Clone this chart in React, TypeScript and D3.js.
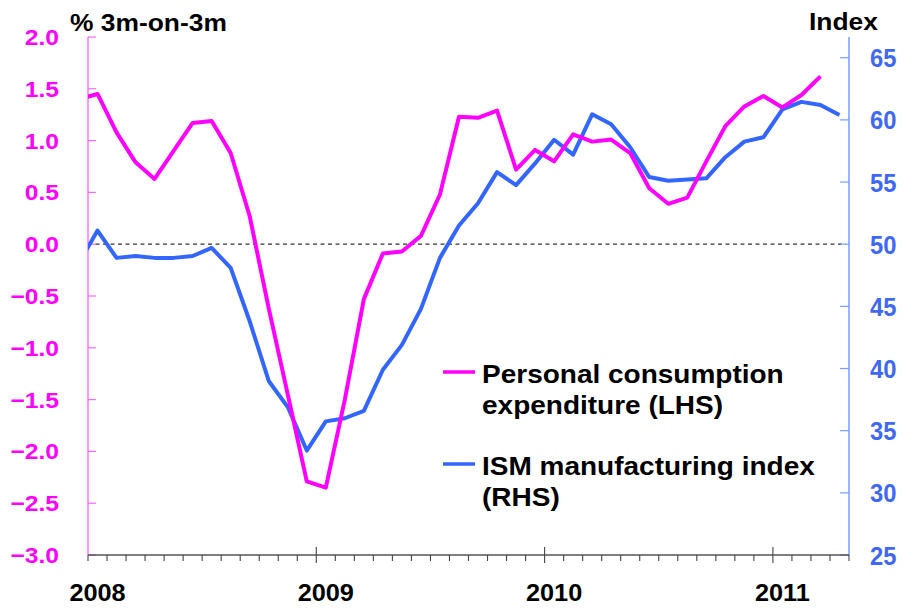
import React, { useRef, useEffect } from "react"
import * as d3 from "d3"

// months, Dec 2007 .. Apr 2011
const months = d3.utcMonths(new Date(Date.UTC(2007, 11, 1)), new Date(Date.UTC(2011, 4, 1))).map(d => d3.utcFormat("%Y-%m")(d))

// Personal consumption expenditure, % 3m-on-3m (Dec 2007 .. Mar 2011)
const pce = [1.40, 1.45, 1.08, 0.79, 0.63, 0.90, 1.17, 1.19, 0.88, 0.27, -0.62, -1.45, -2.29,
  -2.35, -1.50, -0.53, -0.09, -0.07, 0.08, 0.48, 1.23, 1.22, 1.29, 0.72, 0.91,
  0.80, 1.06, 0.99, 1.01, 0.88, 0.54, 0.39, 0.45, 0.80, 1.14, 1.33, 1.43,
  1.32, 1.44, 1.62]

// ISM manufacturing index (Dec 2007 .. Apr 2011)
const ism = [48.4, 51.1, 48.9, 49.05, 48.9, 48.9, 49.05, 49.7, 48.1, 43.8, 39.0, 36.9, 33.4,
  35.75, 36.0, 36.6, 39.9, 41.9, 44.8, 48.9, 51.5, 53.3, 55.8, 54.75, 56.5,
  58.4, 57.2, 60.45, 59.65, 57.8, 55.4, 55.1, 55.2, 55.3, 57.0, 58.25, 58.6,
  60.85, 61.45, 61.2, 60.4]

const leftTicks = [2.0, 1.5, 1.0, 0.5, 0.0, -0.5, -1.0, -1.5, -2.0, -2.5, -3.0]
const rightTicks = [65, 60, 55, 50, 45, 40, 35, 30, 25]
const years = ["2008", "2009", "2010", "2011"]

const PINK = "#ff00ff"
const BLUE = "#3366ff"

const App = () => {
  const ref = useRef(null)

  useEffect(() => {
    const svg = d3.select(ref.current)
    svg.selectAll("*").remove()

    const left = 88, right = 849, top = 37, bottom = 555
    // month index from Jan 2008
    const x = d3.scaleLinear().domain([0, 40]).range([left, right])
    const yL = d3.scaleLinear().domain([-3, 2]).range([bottom, top])
    const yR = d3.scaleLinear().domain([25, 25 + 25 / 0.6]).range([bottom, top])
    const idx = (m) => { const [yy, mm] = m.split("-").map(Number); return (yy - 2008) * 12 + (mm - 1) }

    svg.append("defs").append("clipPath").attr("id", "plotclip")
      .append("rect").attr("x", left).attr("y", 0).attr("width", right - left).attr("height", 612)

    const font = "'Liberation Sans', Arial, sans-serif"

    // zero line
    svg.append("line")
      .attr("x1", left).attr("x2", right - 3)
      .attr("y1", yL(0)).attr("y2", yL(0))
      .attr("stroke", "#333").attr("stroke-width", 1.3).attr("stroke-dasharray", "4,3.5")

    // left axis
    svg.append("line").attr("x1", left).attr("x2", left).attr("y1", top).attr("y2", bottom)
      .attr("stroke", "#ff77ff").attr("stroke-width", 1.5)
    leftTicks.forEach(t => {
      svg.append("line").attr("x1", left).attr("x2", left + 8).attr("y1", yL(t)).attr("y2", yL(t))
        .attr("stroke", "#ff66ff").attr("stroke-width", 1.2)
      svg.append("text")
        .attr("transform", `translate(59,${yL(t) + 8}) scale(1.12,1)`)
        .attr("text-anchor", "end")
        .attr("font-family", font).attr("font-weight", "bold").attr("font-size", 22)
        .attr("fill", PINK)
        .text(d3.format(".1f")(t))
    })

    // right axis
    svg.append("line").attr("x1", right).attr("x2", right).attr("y1", top).attr("y2", bottom)
      .attr("stroke", "#7b9bff").attr("stroke-width", 1.5)
    rightTicks.forEach(t => {
      svg.append("line").attr("x1", right - 9).attr("x2", right).attr("y1", yR(t)).attr("y2", yR(t))
        .attr("stroke", "#7b9bff").attr("stroke-width", 1.2)
      svg.append("text")
        .attr("transform", `translate(870,${yR(t) + 9.5}) scale(0.95,1)`)
        .attr("font-family", font).attr("font-weight", "bold").attr("font-size", 25)
        .attr("fill", "#3f68f5")
        .text(t)
    })

    // x axis
    svg.append("line").attr("x1", left).attr("x2", right).attr("y1", bottom).attr("y2", bottom)
      .attr("stroke", "#555").attr("stroke-width", 1.3)
    d3.range(0, 41).forEach(i => {
      const major = i % 12 === 0 && i > 0
      svg.append("line").attr("x1", x(i)).attr("x2", x(i))
        .attr("y1", major ? bottom - 8 : bottom).attr("y2", major ? bottom + 8 : bottom + 6)
        .attr("stroke", "#444").attr("stroke-width", 1.1)
    })
    years.forEach((yr, k) => {
      svg.append("text")
        .attr("transform", `translate(${x(k * 12 + 0.5)},601) scale(1.1,1)`)
        .attr("text-anchor", "middle")
        .attr("font-family", font).attr("font-weight", "bold").attr("font-size", 23)
        .attr("fill", "#000")
        .text(yr)
    })

    // titles
    svg.append("text").attr("transform", "translate(70,31) scale(1.1,1)")
      .attr("font-family", font).attr("font-weight", "bold").attr("font-size", 24)
      .text("% 3m-on-3m")
    svg.append("text").attr("transform", "translate(809,30) scale(1.1,1)")
      .attr("font-family", font).attr("font-weight", "bold").attr("font-size", 24)
      .text("Index")

    // lines
    const g = svg.append("g").attr("clip-path", "url(#plotclip)")
    const lineL = d3.line().x(d => x(d[0] + 0.5)).y(d => yL(d[1]))
    const lineR = d3.line().x(d => x(d[0] + 0.5)).y(d => yR(d[1]))
    g.append("path")
      .datum(ism.map((v, i) => [idx(months[i]), v]))
      .attr("d", lineR).attr("fill", "none").attr("stroke", BLUE).attr("stroke-width", 4)
      .attr("stroke-linejoin", "round")
    g.append("path")
      .datum(pce.map((v, i) => [idx(months[i]), v]))
      .attr("d", lineL).attr("fill", "none").attr("stroke", PINK).attr("stroke-width", 4)
      .attr("stroke-linejoin", "round")

    // legend
    const legend = [
      { color: PINK, y: 372, lines: ["Personal consumption", "expenditure (LHS)"] },
      { color: BLUE, y: 464, lines: ["ISM manufacturing index", "(RHS)"] },
    ]
    legend.forEach(l => {
      svg.append("line").attr("x1", 443).attr("x2", 475).attr("y1", l.y).attr("y2", l.y)
        .attr("stroke", l.color).attr("stroke-width", 3.5)
      l.lines.forEach((s, j) => {
        svg.append("text")
          .attr("transform", `translate(482,${l.y + 11 + j * 30.5}) scale(1.12,1)`)
          .attr("font-family", font).attr("font-weight", "bold").attr("font-size", 25)
          .attr("fill", "#000")
          .text(s)
      })
    })
  }, [])

  return (
    <svg ref={ref} width={904} height={612} style={{ position: "absolute", left: 0, top: 0, background: "#fff" }} />
  )
}

export default App
